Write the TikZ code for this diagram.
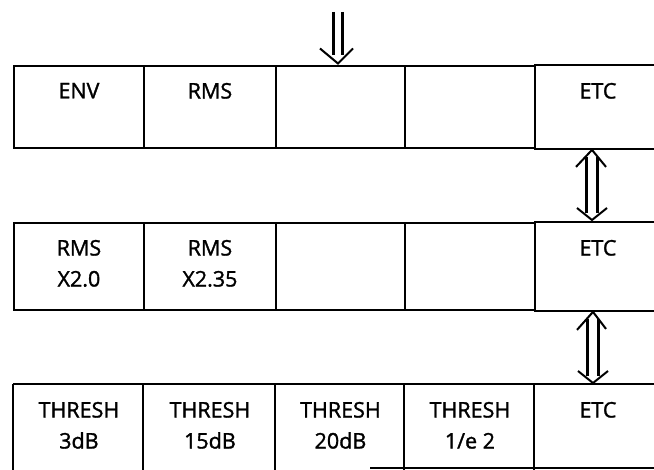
\documentclass[tikz,border=0pt]{standalone}
\usepackage{fontspec}
\setmainfont{Open Sans}[FakeBold=1.4]
\begin{document}
\begin{tikzpicture}[x=1pt,y=-1pt, line width=1.9pt,
  cellbox/.style={draw, minimum height=#1, inner sep=0pt, anchor=north west},
  opencell/.style={minimum height=#1, inner sep=0pt, anchor=north west},
  lbl/.style={anchor=north, inner sep=0pt, align=center, font=\fontsize{21.5}{31}\selectfont},
  arrline/.style={line width=2.2pt},
  headline/.style={line width=2pt, line join=miter}]
\useasboundingbox (0,0) rectangle (654,470);

% ---- row 1
\node[cellbox=82pt, minimum width=130pt] (r1c1) at (13,65) {};
\node[cellbox=82pt, minimum width=132pt] (r1c2) at (143,65) {};
\node[cellbox=82pt, minimum width=129pt] (r1c3) at (275,65) {};
\node[cellbox=82pt, minimum width=130pt] (r1c4) at (404,65) {};
\node[opencell=82pt, minimum width=120pt] (r1c5) at (534,65) {};
\draw (r1c5.north west) -- (r1c5.north east);
\draw (r1c5.south west) -- (r1c5.south east);
\node[lbl] (t11) at ([yshift=-17pt]r1c1.north) {ENV};
\node[lbl] (t12) at ([yshift=-17pt]r1c2.north) {RMS};
\node[lbl] (t15) at ([xshift=3pt,yshift=-17pt]r1c5.north) {ETC};

% ---- row 2
\node[cellbox=87pt, minimum width=130pt] (r2c1) at (13,222) {};
\node[cellbox=87pt, minimum width=132pt] (r2c2) at (143,222) {};
\node[cellbox=87pt, minimum width=129pt] (r2c3) at (275,222) {};
\node[cellbox=87pt, minimum width=130pt] (r2c4) at (404,222) {};
\node[opencell=87pt, minimum width=120pt] (r2c5) at (534,222) {};
\draw (r2c5.north west) -- (r2c5.north east);
\draw (r2c5.south west) -- (r2c5.south east);
\node[lbl] (t21) at ([yshift=-17pt]r2c1.north) {RMS\\X2.0};
\node[lbl] (t22) at ([yshift=-17pt]r2c2.north) {RMS\\X2.35};
\node[lbl] (t25) at ([xshift=3pt,yshift=-17pt]r2c5.north) {ETC};

% ---- row 3 (bottom cut off)
\node[opencell=86pt, minimum width=130pt] (r3c1) at (13,384) {};
\node[opencell=86pt, minimum width=132pt] (r3c2) at (143,384) {};
\node[opencell=86pt, minimum width=129pt] (r3c3) at (275,384) {};
\node[opencell=86pt, minimum width=130pt] (r3c4) at (404,384) {};
\node[opencell=86pt, minimum width=120pt] (r3c5) at (534,384) {};
\draw (r3c1.north west) -- (r3c5.north east);
\draw (r3c1.north west) -- (r3c1.south west);
\draw (r3c2.north west) -- (r3c2.south west);
\draw (r3c3.north west) -- (r3c3.south west);
\draw (r3c4.north west) -- (r3c4.south west);
\draw (r3c5.north west) -- (r3c5.south west);
\coordinate (b0) at (370,468);
\draw (b0) -- (b0 -| r3c5.east);
\node[lbl] (t31) at ([yshift=-17pt]r3c1.north) {THRESH\\3dB};
\node[lbl] (t32) at ([yshift=-17pt]r3c2.north) {THRESH\\15dB};
\node[lbl] (t33) at ([yshift=-17pt]r3c3.north) {THRESH\\20dB};
\node[lbl] (t34) at ([yshift=-17pt]r3c4.north) {THRESH\\1/e 2};
\node[lbl] (t35) at ([xshift=3pt,yshift=-17pt]r3c5.north) {ETC};

% ---- input arrow
\coordinate (in) at (338,12);
\coordinate (tip1) at ([yshift=1.5pt]in |- r1c3.north);
\draw[arrline] ([xshift=-4.5pt]in) -- ([xshift=-4.5pt,yshift=8pt]tip1);
\draw[arrline] ([xshift=4.5pt]in) -- ([xshift=4.5pt,yshift=8pt]tip1);
\draw[headline] ([shift={(-18,-15)}]tip1) -- (tip1) -- ([shift={(15,-15)}]tip1);

% ---- arrow between rows 1 and 2
\coordinate (a2) at (592,0);
\coordinate (u2) at ([yshift=-1pt]a2 |- r1c5.south);
\coordinate (d2) at ([yshift=2pt]a2 |- r2c5.north);
\draw[arrline] ([xshift=-5.5pt,yshift=-7pt]u2) -- ([xshift=-5.5pt,yshift=7pt]d2);
\draw[arrline] ([xshift=5.5pt,yshift=-7pt]u2) -- ([xshift=5.5pt,yshift=7pt]d2);
\draw[headline] ([shift={(-16,17)}]u2) -- (u2) -- ([shift={(14,17)}]u2);
\draw[headline] ([shift={(-15,-12)}]d2) -- (d2) -- ([shift={(15,-12)}]d2);

% ---- arrow between rows 2 and 3
\coordinate (a3) at (593,0);
\coordinate (u3) at ([yshift=-1pt]a3 |- r2c5.south);
\coordinate (d3) at ([yshift=1pt]a3 |- r3c5.north);
\draw[arrline] ([xshift=-5.5pt,yshift=-7pt]u3) -- ([xshift=-5.5pt,yshift=7pt]d3);
\draw[arrline] ([xshift=5.5pt,yshift=-7pt]u3) -- ([xshift=5.5pt,yshift=7pt]d3);
\draw[headline] ([shift={(-16,18)}]u3) -- (u3) -- ([shift={(13,17)}]u3);
\draw[headline] ([shift={(-15,-12)}]d3) -- (d3) -- ([shift={(15,-12)}]d3);
\end{tikzpicture}
\end{document}
